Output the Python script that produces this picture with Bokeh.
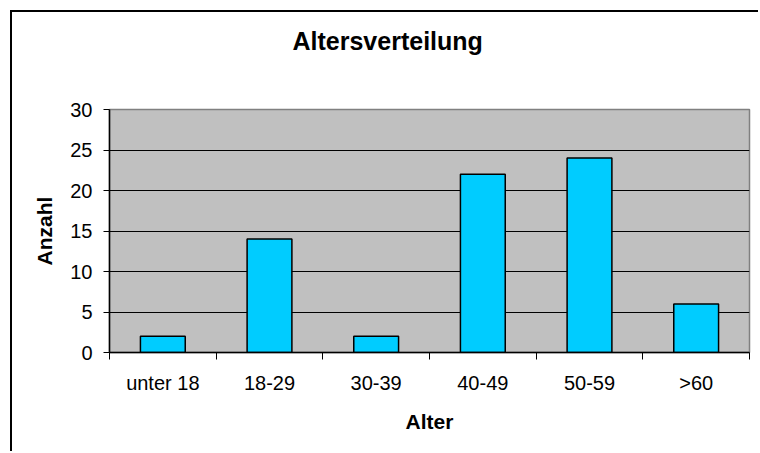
from bokeh.plotting import figure
from bokeh.models import (FactorRange, Range1d, LinearAxis, CategoricalAxis, FixedTicker,
                          Title, Grid)
from bokeh.embed import file_html
from bokeh.resources import INLINE

categories = ["unter 18", "18-29", "30-39", "40-49", "50-59", ">60"]
counts = [2, 14, 2, 22, 24, 6]
y_ticks = [0, 5, 10, 15, 20, 25, 30]
grid_ticks = [5, 10, 15, 20, 25]
title_text = "Altersverteilung"
x_label = "Alter"
y_label = "Anzahl"

FONT = "Liberation Sans"

p = figure(width=748, height=441,
           x_range=FactorRange(factors=categories, range_padding=0),
           y_range=Range1d(0, 30),
           output_backend="svg", toolbar_location=None,
           x_axis_location=None, y_axis_location="left",
           min_border_left=97, min_border_right=11,
           min_border_top=97, min_border_bottom=101)
p.title.text = ""

p.styles = {"margin-left": "10px", "margin-top": "10px",
            "border-left": "2px solid black", "border-top": "2px solid black"}

p.background_fill_color = "#C0C0C0"
p.border_fill_color = "white"
p.outline_line_color = "#808080"
p.outline_line_width = 1.5

p.xgrid.visible = False
p.ygrid.visible = False
p.add_layout(Grid(dimension=1, ticker=FixedTicker(ticks=grid_ticks),
                  grid_line_color="black", grid_line_width=1))

# y axis
ya = p.yaxis[0]
ya.ticker = FixedTicker(ticks=y_ticks)
ya.major_tick_in = 0
ya.major_tick_out = 6
ya.minor_tick_line_color = None
ya.axis_line_color = "black"
ya.axis_line_width = 1.5
ya.major_tick_line_color = "black"
ya.major_label_text_font = FONT
ya.major_label_text_font_size = "20px"
ya.major_label_text_color = "black"
ya.major_label_standoff = 11
ya.axis_label = y_label
ya.axis_label_text_font = FONT
ya.axis_label_text_font_size = "21px"
ya.axis_label_text_font_style = "bold"
ya.axis_label_text_color = "black"
ya.axis_label_standoff = 11

# x axis: tick marks at category boundaries (synthetic coordinates), nearest to frame
boundaries = list(range(len(categories) + 1))
tick_axis = LinearAxis(ticker=FixedTicker(ticks=boundaries),
                       major_tick_in=0, major_tick_out=7,
                       minor_tick_line_color=None,
                       major_tick_line_color="black",
                       axis_line_color="black", axis_line_width=1.5,
                       major_label_overrides={i: "" for i in boundaries},
                       major_label_text_font_size="1px",
                       major_label_standoff=0)
p.add_layout(tick_axis, "below")

cat_axis = CategoricalAxis(axis_line_color=None, major_tick_line_color=None,
                           major_tick_in=0, major_tick_out=0,
                           major_label_standoff=12,
                           major_label_text_font=FONT,
                           major_label_text_font_size="20px",
                           major_label_text_color="black",
                           axis_label=x_label,
                           axis_label_text_font=FONT,
                           axis_label_text_font_size="21px",
                           axis_label_text_font_style="bold",
                           axis_label_text_color="black",
                           axis_label_standoff=13)
p.add_layout(cat_axis, "below")

p.vbar(x=categories, top=counts, width=0.42,
       fill_color="#00CCFF", line_color="black", line_width=1.5)

# spacer (nearest to the frame) pushes the title up
spacer = Title(text=" ", text_font_size="1px", standoff=47)
p.add_layout(spacer, "above")
main_title = Title(text=title_text, align="left", offset=183, standoff=10,
                   text_font=FONT, text_font_size="25px", text_font_style="bold",
                   text_color="black")
p.add_layout(main_title, "above")

open("out.html", "w").write(file_html(p, INLINE))
